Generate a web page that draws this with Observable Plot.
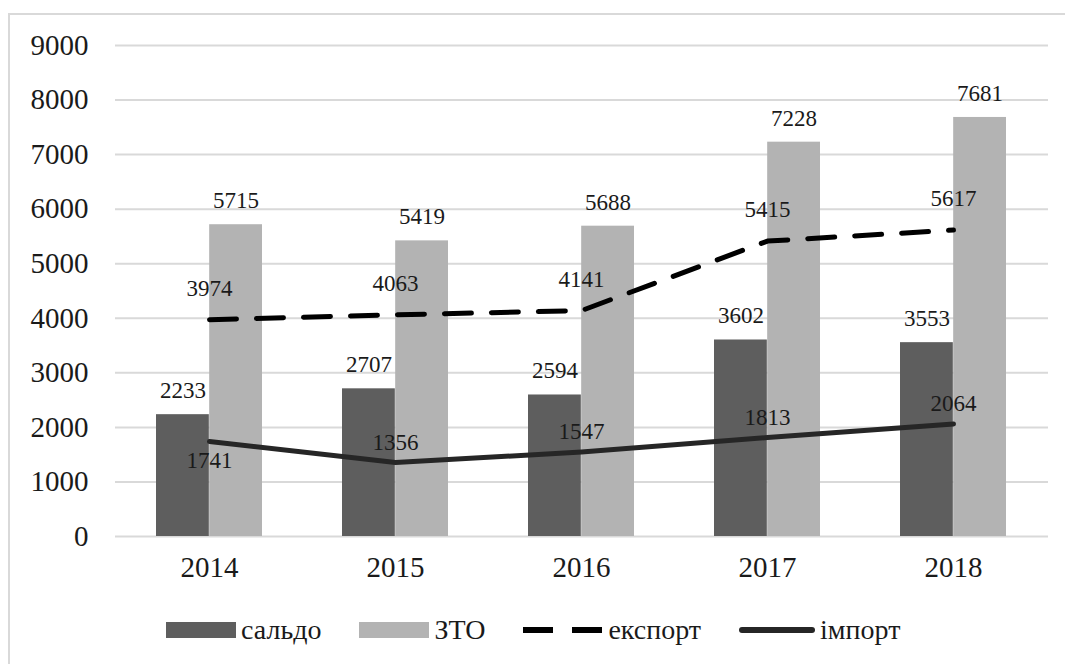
<!DOCTYPE html>
<html>
<head>
<meta charset="utf-8">
<script src="https://cdn.jsdelivr.net/npm/d3@7"></script>
<script src="https://cdn.jsdelivr.net/npm/@observablehq/plot@0.6"></script>
<style>
  html, body { margin: 0; padding: 0; background: #fff; }
  body { width: 1065px; height: 664px; position: relative; overflow: hidden; font-family: "Liberation Serif", "Times New Roman", serif; }
  #frame { position: absolute; left: 8px; top: 13px; width: 1060px; height: 660px; border: 2px solid #d9d9d9; box-sizing: border-box; }
  #chart { position: absolute; left: 0; top: 0; }
  #legend { position: absolute; left: 166px; top: 614px; display: flex; align-items: center; font-size: 28px; color: #1a1a1a; font-family: "Liberation Serif", "Times New Roman", serif; }
  .item { display: flex; align-items: center; margin-right: 38px; }
  .item svg { margin-right: 5px; }
</style>
</head>
<body>
<div id="frame"></div>
<div id="chart"></div>
<div id="legend"></div>
<script>
const years = ["2014", "2015", "2016", "2017", "2018"];
const saldo = [2233, 2707, 2594, 3602, 3553];
const zto = [5715, 5419, 5688, 7228, 7681];
const eksport = [3974, 4063, 4141, 5415, 5617];
const importV = [1741, 1356, 1547, 1813, 2064];
const yTicks = [0, 1000, 2000, 3000, 4000, 5000, 6000, 7000, 8000, 9000];
const seriesNames = ["сальдо", "ЗТО", "експорт", "імпорт"];

const darkFill = "#5e5e5e";
const lightFill = "#b3b3b3";
const exportStroke = "#000000";
const importStroke = "#262626";
const labelColor = "#1a1a1a";
const serif = "'Liberation Serif', 'Times New Roman', serif";

const rows = years.map((year, i) => ({
  year, saldo: saldo[i], zto: zto[i], eksport: eksport[i], imp: importV[i]
}));

const W = 1065, H = 600;
const mL = 115, mR = 17, mT = 45, mB = 64;
const padInner = 0.43;
const step = (W - mL - mR) / years.length;
const half = step * (1 - padInner) / 2;

const txt = { fill: labelColor, fontFamily: serif, fontSize: 23 };

const chart = Plot.plot({
  width: W,
  height: H,
  marginTop: mT,
  marginBottom: mB,
  marginLeft: mL,
  marginRight: mR,
  style: { fontFamily: serif, fontSize: "23px", color: labelColor, background: "transparent" },
  x: { type: "band", domain: years, paddingInner: padInner, paddingOuter: padInner / 2, label: null },
  y: { domain: [0, 9000], label: null },
  marks: [
    Plot.gridY(yTicks, { stroke: "#d9d9d9", strokeOpacity: 1, strokeWidth: 2 }),
    Plot.barY(rows, { x: "year", y: "saldo", fill: darkFill, insetRight: half }),
    Plot.barY(rows, { x: "year", y: "zto", fill: lightFill, insetLeft: half }),
    Plot.line(rows, { x: "year", y: "eksport", stroke: exportStroke, strokeWidth: 5, strokeDasharray: "27,20" }),
    Plot.line(rows, { x: "year", y: "imp", stroke: importStroke, strokeWidth: 5, strokeLinecap: "round", strokeLinejoin: "round" }),
    Plot.text(rows, { x: "year", y: "saldo", text: d => String(d.saldo), dx: -half / 2, dy: -24, ...txt }),
    Plot.text(rows, { x: "year", y: "zto", text: d => String(d.zto), dx: half / 2, dy: -24, ...txt }),
    Plot.text(rows, { x: "year", y: "eksport", text: d => String(d.eksport), dy: -31, ...txt }),
    Plot.text(rows.slice(0, 1), { x: "year", y: "imp", text: d => String(d.imp), dy: 19, ...txt }),
    Plot.text(rows.slice(1), { x: "year", y: "imp", text: d => String(d.imp), dy: -20, ...txt }),
    Plot.axisY(yTicks, { tickSize: 0, tickPadding: 27, fontSize: 29, fontFamily: serif, fill: labelColor, label: null, tickFormat: d => String(d) }),
    Plot.axisX({ tickSize: 0, tickPadding: 20, fontSize: 29, fontFamily: serif, fill: labelColor, label: null })
  ]
});
document.getElementById("chart").appendChild(chart);

// Legend
const legend = document.getElementById("legend");
const swatches = [
  `<svg width="70" height="16"><rect x="0" y="0" width="70" height="16" fill="${darkFill}"/></svg>`,
  `<svg width="70" height="16"><rect x="0" y="0" width="70" height="16" fill="${lightFill}"/></svg>`,
  `<svg width="80" height="16"><line x1="0" y1="8" x2="80" y2="8" stroke="${exportStroke}" stroke-width="6" stroke-dasharray="30,19"/></svg>`,
  `<svg width="76" height="16"><line x1="3" y1="8" x2="73" y2="8" stroke="${importStroke}" stroke-width="6" stroke-linecap="round"/></svg>`
];
seriesNames.forEach((name, i) => {
  const item = document.createElement("div");
  item.className = "item";
  item.innerHTML = swatches[i] + `<span>${name}</span>`;
  legend.appendChild(item);
});
</script>
</body>
</html>
